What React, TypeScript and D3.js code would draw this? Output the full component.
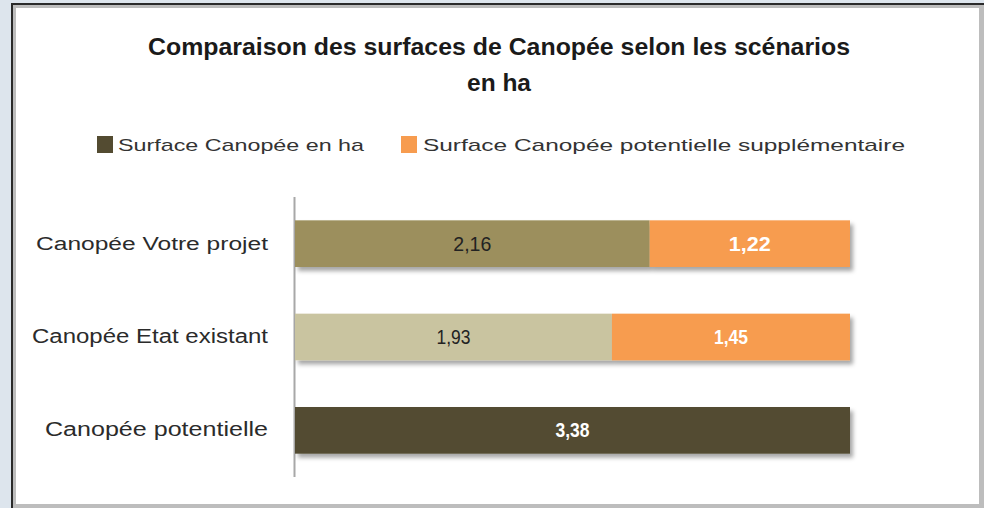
import React from "react";
import * as d3 from "d3";

const categories = ["Canopée Votre projet", "Canopée Etat existant", "Canopée potentielle"];
const baseValues = [2.16, 1.93, 3.38];
const extraValues = [1.22, 1.45, 0];
const baseLabels = ["2,16", "1,93", "3,38"];
const extraLabels = ["1,22", "1,45", ""];
const seriesNames = ["Surface Canopée en ha", "Surface Canopée potentielle supplémentaire"];
const titleLines = ["Comparaison des surfaces de Canopée selon les scénarios", "en ha"];

const baseColors = ["#9c8f5d", "#c9c4a0", "#534b31"];
const baseLabelColors = ["#222222", "#222222", "#ffffff"];
const extraColor = "#f79c4f";
const legendColors = ["#534b31", "#f79c4f"];

const W = 984;
const H = 508;

export default function App() {
  const x = d3.scaleLinear().domain([0, 3.38]).range([295, 850]);
  const y = d3.scaleBand().domain(categories).range([197, 477]).paddingInner(0.5).paddingOuter(0.25);
  const font = "'Liberation Sans', Arial, sans-serif";
  const lens = [232, 236, 223];
  const labelSizes = [18, 19.5, 19.5];
  return (
    <svg width={W} height={H} style={{ position: "absolute", left: 0, top: 0 }}>
      <defs>
        <filter id="sh" x="-5%" y="-20%" width="115%" height="160%">
          <feDropShadow dx="3" dy="4" stdDeviation="2.2" floodColor="#000" floodOpacity="0.35" />
        </filter>
      </defs>
      <rect x={0} y={0} width={W} height={H} fill="#dde5ed" />
      <rect x={11} y={3} width={W - 11} height={H - 3} fill="#2a2a2a" />
      <rect x={13} y={5} width={W - 13} height={H - 5} fill="#bdbdbd" />
      <rect x={16} y={8} width={963} height={496} fill="#ffffff" />
      {/* title */}
      {titleLines.map((t, i) => (
        <text key={i} x={499} y={55 + i * 36} textAnchor="middle" fontFamily={font} fontWeight="bold"
          fontSize={23} fill="#1a1a1a"
          textLength={i === 0 ? 702 : 64} lengthAdjust="spacingAndGlyphs">{t}</text>
      ))}
      {/* legend */}
      <rect x={97} y={136} width={16} height={17} fill={legendColors[0]} />
      <text x={118} y={151} fontFamily={font} fontSize={17} fill="#333" textLength={246} lengthAdjust="spacingAndGlyphs">{seriesNames[0]}</text>
      <rect x={401} y={136} width={16} height={17} fill={legendColors[1]} />
      <text x={423} y={151} fontFamily={font} fontSize={17} fill="#333" textLength={482} lengthAdjust="spacingAndGlyphs">{seriesNames[1]}</text>
      {/* axis */}
      <line x1={294.5} x2={294.5} y1={197} y2={477} stroke="#a8a8a8" strokeWidth={2} />
      {categories.map((c, i) => {
        const yy = y(c)!;
        const bh = y.bandwidth();
        const cy = yy + bh / 2;
        const x0 = x(0);
        const x1 = x(baseValues[i]);
        const x2 = x(baseValues[i] + extraValues[i]);
        return (
          <g key={c}>
            <g filter="url(#sh)">
              <rect x={x0} y={yy} width={x1 - x0} height={bh} fill={baseColors[i]} />
              {extraValues[i] > 0 && (
                <rect x={x1} y={yy} width={x2 - x1} height={bh} fill={extraColor} />
              )}
            </g>
            <text x={(x0 + x1) / 2} y={cy + 7} textAnchor="middle" fontFamily={font}
              fontWeight={i === 2 ? "bold" : "normal"} fontSize={20} fill={baseLabelColors[i]}
              textLength={i === 0 ? 38 : 34} lengthAdjust="spacingAndGlyphs">{baseLabels[i]}</text>
            {extraValues[i] > 0 && (
              <text x={(x1 + x2) / 2} y={cy + 7} textAnchor="middle" fontFamily={font}
                fontWeight="bold" fontSize={20} fill="#ffffff"
                textLength={i === 0 ? 42 : 34} lengthAdjust="spacingAndGlyphs">{extraLabels[i]}</text>
            )}
            <text x={268} y={cy + 6} textAnchor="end" fontFamily={font} fontSize={labelSizes[i]} fill="#2b2b2b"
              textLength={lens[i]} lengthAdjust="spacingAndGlyphs">{c}</text>
          </g>
        );
      })}
    </svg>
  );
}
